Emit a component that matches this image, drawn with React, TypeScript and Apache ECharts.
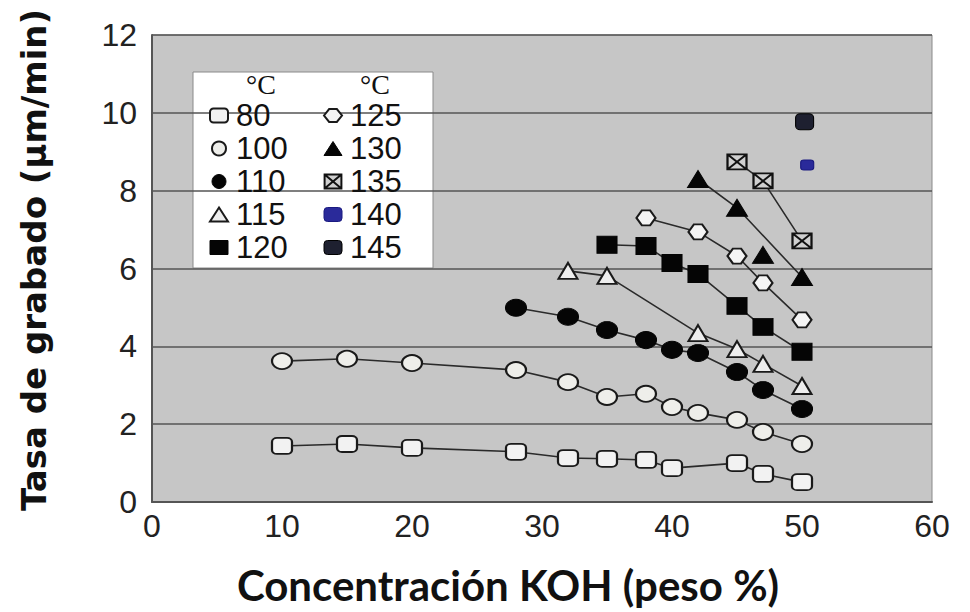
import React, { useEffect, useRef } from "react";
import * as echarts from "echarts";

// ---- data ----
const xTicks = [0, 10, 20, 30, 40, 50, 60];
const yTicks = [0, 2, 4, 6, 8, 10, 12];

const x80 = [10, 15, 20, 28, 32, 35, 38, 40, 45, 47, 50];
const y80 = [1.44, 1.49, 1.39, 1.29, 1.13, 1.11, 1.08, 0.87, 1.0, 0.72, 0.51];

const x100 = [10, 15, 20, 28, 32, 35, 38, 40, 42, 45, 47, 50];
const y100 = [3.62, 3.68, 3.57, 3.39, 3.08, 2.7, 2.78, 2.44, 2.29, 2.11, 1.8, 1.49];

const x110 = [28, 32, 35, 38, 40, 42, 45, 47, 50];
const y110 = [4.99, 4.76, 4.42, 4.16, 3.91, 3.83, 3.34, 2.88, 2.39];

const x115 = [32, 35, 42, 45, 47, 50];
const y115 = [5.94, 5.81, 4.34, 3.93, 3.55, 2.98];

const x120 = [35, 38, 40, 42, 45, 47, 50];
const y120 = [6.61, 6.58, 6.14, 5.86, 5.04, 4.5, 3.86];

const x125 = [38, 42, 45, 47, 50];
const y125 = [7.3, 6.94, 6.32, 5.63, 4.68];

const x130 = [42, 45, 50];
const y130 = [8.3, 7.56, 5.78];
const x130extra = [47];
const y130extra = [6.35];

const x135 = [45, 47, 50];
const y135 = [8.74, 8.25, 6.71];

const x140 = [50.4];
const y140 = [8.66];

const x145 = [50.2];
const y145 = [9.77];

const legendLeft = ["80", "100", "110", "115", "120"];
const legendRight = ["125", "130", "135", "140", "145"];

const zip = (xs: number[], ys: number[]) => xs.map((x, i) => [x, ys[i]]);

const hexPath = "path://M0,5 L4,0 L10,0 L14,5 L10,10 L4,10 Z";
const crossPath = "path://M0,0 L12,0 L12,10 L0,10 Z M0,0 L12,10 M12,0 L0,10";

type Sty = { symbol: string; size: number[]; fill: string; border: string; bw: number };
const styles: Record<string, Sty> = {
  "80": { symbol: "roundRect", size: [20, 16], fill: "#f2f2f2", border: "#1a1a1a", bw: 2 },
  "100": { symbol: "circle", size: [20, 16], fill: "#eeeeea", border: "#1a1a1a", bw: 2 },
  "110": { symbol: "circle", size: [21, 17], fill: "#050505", border: "#050505", bw: 1 },
  "115": { symbol: "triangle", size: [19, 16], fill: "#eeeeee", border: "#1a1a1a", bw: 2 },
  "120": { symbol: "rect", size: [20, 17], fill: "#050505", border: "#050505", bw: 1 },
  "125": { symbol: hexPath, size: [19, 15], fill: "#f4f4f4", border: "#1a1a1a", bw: 2 },
  "130": { symbol: "triangle", size: [21, 17], fill: "#050505", border: "#050505", bw: 1 },
  "135": { symbol: crossPath, size: [19, 15], fill: "#cfcfcf", border: "#111111", bw: 2 },
  "140": { symbol: "roundRect", size: [13, 10], fill: "#2a2a9a", border: "#1a1a80", bw: 1 },
  "145": { symbol: "roundRect", size: [18, 16], fill: "#1e2030", border: "#000000", bw: 1 },
};

const seriesData: [string, number[][], boolean][] = [
  ["80", zip(x80, y80), true],
  ["100", zip(x100, y100), true],
  ["110", zip(x110, y110), true],
  ["115", zip(x115, y115), true],
  ["120", zip(x120, y120), true],
  ["125", zip(x125, y125), true],
  ["130", zip(x130, y130), true],
  ["135", zip(x135, y135), true],
  ["140", zip(x140, y140), false],
  ["145", zip(x145, y145), false],
  ["130", zip(x130extra, y130extra), false],
];

export default function App() {
  const ref = useRef<HTMLDivElement>(null);
  useEffect(() => {
    if (!ref.current) return;
    const chart = echarts.init(ref.current, undefined, { renderer: "svg" });

    const series = seriesData.map(([name, data, line]) => {
      const s = styles[name];
      return {
        name,
        type: "line",
        data,
        symbol: s.symbol,
        symbolSize: s.size,
        showSymbol: true,
        z: 3,
        lineStyle: { color: "#2a2a2a", width: line ? 1.6 : 0, opacity: line ? 1 : 0 },
        itemStyle: { color: s.fill, borderColor: s.border, borderWidth: s.bw, opacity: 1 },
      };
    });

    const legendItem = (n: string) => ({
      name: n,
      icon: styles[n].symbol,
      itemStyle: { color: styles[n].fill, borderColor: styles[n].border, borderWidth: styles[n].bw },
    });

    const legendCommon = {
      orient: "vertical",
      itemWidth: 18,
      itemHeight: 14,
      itemGap: 2,
      selectedMode: false,
      textStyle: {
        fontFamily: "Liberation Sans",
        fontSize: 31,
        color: "#111",
        lineHeight: 30,
        padding: [0, 0, 0, 3],
      },
    };

    chart.setOption({
      animation: false,
      backgroundColor: "#ffffff",
      grid: {
        left: 152,
        right: 38,
        top: 35,
        bottom: 110,
        show: true,
        backgroundColor: "#c6c6c6",
        borderColor: "#8a8a8a",
        borderWidth: 1,
      },
      xAxis: {
        type: "value",
        min: xTicks[0],
        max: xTicks[xTicks.length - 1],
        interval: 10,
        axisLine: { show: true, lineStyle: { color: "#555", width: 2 } },
        axisTick: { show: false },
        splitLine: { show: false },
        axisLabel: {
          fontFamily: "Liberation Sans",
          fontSize: 32,
          color: "#222",
          margin: 8,
        },
      },
      yAxis: {
        type: "value",
        min: yTicks[0],
        max: yTicks[yTicks.length - 1],
        interval: 2,
        axisLine: { show: true, lineStyle: { color: "#555", width: 2 } },
        axisTick: { show: false },
        splitLine: { show: true, lineStyle: { color: "#555", width: 1.5 } },
        axisLabel: {
          fontFamily: "Liberation Sans",
          fontSize: 32,
          color: "#222",
          margin: 15,
        },
      },
      legend: [
        { ...legendCommon, left: 204, top: 95, data: legendLeft.map(legendItem) },
        { ...legendCommon, left: 318, top: 95, data: legendRight.map(legendItem) },
      ],
      graphic: [
        {
          type: "rect",
          z: 0,
          zlevel: 0,
          shape: { x: 193, y: 72, width: 240, height: 196 },
          style: { fill: "#ffffff", stroke: "#8a8a8a", lineWidth: 1 },
        },
        {
          type: "text",
          x: 261,
          y: 84,
          z: 10,
          style: {
            text: "°C",
            font: "28px 'Liberation Serif'",
            fill: "#111",
            textAlign: "center",
            textVerticalAlign: "middle",
          },
        },
        {
          type: "text",
          x: 375,
          y: 84,
          z: 10,
          style: {
            text: "°C",
            font: "28px 'Liberation Serif'",
            fill: "#111",
            textAlign: "center",
            textVerticalAlign: "middle",
          },
        },
        {
          type: "text",
          x: 34,
          y: 260,
          rotation: Math.PI / 2,
          style: {
            text: "Tasa de grabado (µm/min)",
            font: "bold 34px 'DejaVu Sans'",
            fill: "#111",
            textAlign: "center",
            textVerticalAlign: "middle",
          },
        },
        {
          type: "text",
          x: 508,
          y: 585,
          style: {
            text: "Concentración KOH (peso %)",
            font: "bold 42px Lato",
            fill: "#111",
            textAlign: "center",
            textVerticalAlign: "middle",
          },
        },
      ],
      series,
    });
    return () => chart.dispose();
  }, []);
  return <div ref={ref} style={{ width: 970, height: 612, position: "absolute", left: 0, top: 0 }} />;
}
